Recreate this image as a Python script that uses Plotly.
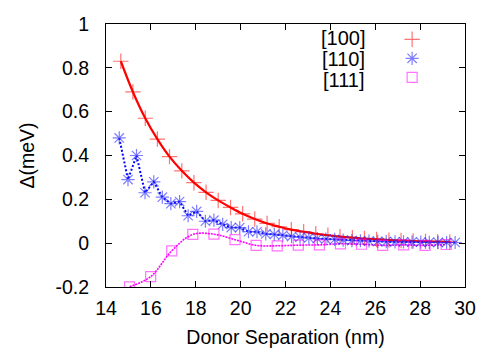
import plotly.graph_objects as go

# [100] separations (nm) and splitting (meV)
x100 = [14.66, 15.20, 15.75, 16.29, 16.83, 17.38, 17.92, 18.46, 19.00, 19.55,
        20.09, 20.63, 21.18, 21.72, 22.26, 22.81, 23.35, 23.89, 24.43, 24.98,
        25.52, 26.06, 26.61, 27.15, 27.69, 28.24, 28.78, 29.32]
y100 = [0.83, 0.69, 0.57, 0.475, 0.395, 0.33, 0.276, 0.232, 0.195, 0.163,
        0.134, 0.11, 0.09, 0.075, 0.062, 0.052, 0.043, 0.036, 0.030, 0.025,
        0.021, 0.017, 0.014, 0.012, 0.010, 0.008, 0.007, 0.006]

x110 = [14.59, 14.98, 15.36, 15.74, 16.13, 16.51, 16.89, 17.28, 17.66, 18.04,
        18.43, 18.81, 19.20, 19.58, 19.96, 20.35, 20.73, 21.12, 21.50, 21.88,
        22.27, 22.65, 23.04, 23.42, 23.80, 24.19, 24.57, 24.96, 25.34, 25.72,
        26.11, 26.49, 26.88, 27.26, 27.64, 28.03, 28.41, 28.80, 29.18, 29.56]
y110 = [0.48, 0.29, 0.40, 0.23, 0.28, 0.21, 0.18, 0.19, 0.125, 0.145,
        0.10, 0.105, 0.086, 0.071, 0.071, 0.052, 0.052, 0.042, 0.040, 0.036,
        0.030, 0.027, 0.024, 0.021, 0.019, 0.017, 0.014, 0.012, 0.011, 0.010,
        0.008, 0.007, 0.006, 0.006, 0.005, 0.005, 0.004, 0.004, 0.003, 0.003]

x111 = [15.05, 15.99, 16.93, 17.87, 18.81, 19.75, 20.69, 21.63,
        22.57, 23.51, 24.45, 25.39, 26.33, 27.27, 28.22, 29.16]
y111 = [-0.199, -0.153, -0.035, 0.040, 0.041, 0.016, -0.010, -0.012,
        -0.009, -0.008, -0.003, -0.005, -0.010, -0.008, -0.010, -0.006]

labels = ['[100]', '[110]', '[111]']

FONT = 'Liberation Sans, Arial, sans-serif'
RED_M = 'rgba(255,0,0,0.55)'
BLUE_M = 'rgba(40,40,255,0.6)'
MAG_M = 'rgba(255,0,255,0.55)'

fig = go.Figure()

# fitted / guide lines
fig.add_trace(go.Scatter(x=x100, y=y100, mode='lines', line_shape='spline',
                         line=dict(color='#ff0000', width=2.2), showlegend=False))
fig.add_trace(go.Scatter(x=x110, y=y110, mode='lines',
                         line=dict(color='#0000ff', width=2, dash='2px,2px'), showlegend=False))
fig.add_trace(go.Scatter(x=x111, y=y111, mode='lines', line_shape='spline',
                         line=dict(color='#ff00ff', width=1.6, dash='2px,1px'), showlegend=False))

# data points
fig.add_trace(go.Scatter(x=x100, y=y100, mode='markers', name=' ',
                         marker=dict(symbol='cross-thin-open', size=11, color=RED_M,
                                     line=dict(color=RED_M, width=1.2))))
fig.add_trace(go.Scatter(x=x110, y=y110, mode='markers', name=' ',
                         marker=dict(symbol='asterisk-open', size=11, color=BLUE_M,
                                     line=dict(color=BLUE_M, width=1.2))))
fig.add_trace(go.Scatter(x=x111, y=y111, mode='markers', name=' ',
                         marker=dict(symbol='square-open', size=10, color=MAG_M,
                                     line=dict(color=MAG_M, width=1.2))))

for i, lab in enumerate(labels):
    fig.add_annotation(text=lab, xref='paper', yref='paper', x=0.728, y=0.948 - i * 0.08,
                       xanchor='right', yanchor='middle', showarrow=False,
                       font=dict(size=20, color='black', family=FONT))

axis_common = dict(showline=True, linecolor='black', linewidth=1, mirror='allticks',
                   ticks='inside', ticklen=6, tickcolor='black', showgrid=False,
                   zeroline=False, automargin=False,
                   tickfont=dict(size=19.5, color='black', family=FONT))

fig.update_xaxes(range=[14, 30], tickmode='array', tickvals=list(range(14, 31, 2)),
                 ticklabelstandoff=4,
                 title=dict(text='Donor Separation (nm)', font=dict(size=19.5, family=FONT, color='black'),
                            standoff=11),
                 **axis_common)
fig.update_yaxes(range=[-0.2, 1], tickmode='array',
                 tickvals=[-0.2, 0, 0.2, 0.4, 0.6, 0.8, 1],
                 ticktext=['-0.2', '0', '0.2', '0.4', '0.6', '0.8', '1'],
                 ticklabelstandoff=12,
                 title=dict(text='Δ(meV)', font=dict(size=19.5, family=FONT, color='black'), standoff=15),
                 **axis_common)

# page body adds 8px offset, so margins are shifted accordingly
fig.update_layout(width=500, height=350, margin=dict(l=98, r=43, t=16, b=71),
                  plot_bgcolor='white', paper_bgcolor='white',
                  legend=dict(x=0.797, y=0.997, xanchor='left', yanchor='top',
                              bgcolor='rgba(0,0,0,0)', font=dict(size=12),
                              tracegroupgap=0, itemwidth=30))

fig.write_html("out.html")
